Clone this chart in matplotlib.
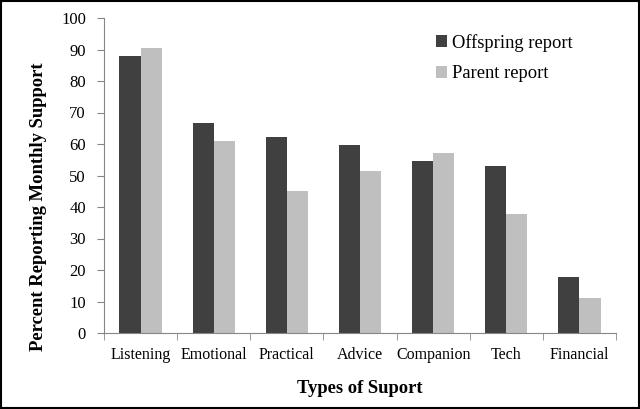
import matplotlib
matplotlib.use('Agg')
import matplotlib.pyplot as plt
import numpy as np

## data ##
categories = ['Listening', 'Emotional', 'Practical', 'Advice', 'Companion', 'Tech', 'Financial']
offspring = [87.9, 66.8, 62.2, 59.6, 54.5, 52.9, 17.9]
parent = [90.4, 61.0, 45.2, 51.3, 57.0, 37.8, 11.0]

plt.rcParams['font.family'] = ['Liberation Serif', 'DejaVu Serif']

fig = plt.figure(figsize=(6.4, 4.09), dpi=100)
ax = fig.add_axes([104/640, 1-333/409, 512/640, 315/409])

x = np.arange(len(categories))
w = 0.29
ax.bar(x - w/2, offspring, w, color='#404040', label='Offspring report')
ax.bar(x + w/2, parent, w, color='#bfbfbf', label='Parent report')

ax.set_xlim(-0.5, len(categories) - 0.5)
ax.set_ylim(0, 100)
ax.set_yticks(range(0, 101, 10))
ax.set_xticks(x)
ax.set_xticklabels(categories)
ax.set_xticks(np.arange(-0.5, len(categories)), minor=True)
ax.tick_params(axis='x', which='major', length=0, pad=10, labelsize=11.5)
ax.tick_params(axis='x', which='minor', length=5, color='#868686', direction='out')
ax.tick_params(axis='y', length=5, color='#868686', labelsize=12, pad=8)

for s in ['top', 'right']:
    ax.spines[s].set_visible(False)
ax.spines['left'].set_color('#868686')
ax.spines['bottom'].set_color('#868686')

ax.set_ylabel('Percent Reporting Monthly Support', fontsize=13.4, fontweight='bold')
ax.yaxis.set_label_coords(-0.111, 0.40)
ax.set_xlabel('Types of Suport', fontsize=13.4, fontweight='bold', labelpad=12)

ax.legend(loc='upper left', bbox_to_anchor=(0.615, 1.003), frameon=False, fontsize=13.3,
          handlelength=0.6, handleheight=0.6, handletextpad=0.3, labelspacing=0.75)

# figure frame
fig.patches.append(plt.Rectangle((0.002, 0.003), 0.996, 0.994, transform=fig.transFigure,
                                 fill=False, edgecolor='black', linewidth=1.5))

fig.savefig('out.png', dpi=100)
